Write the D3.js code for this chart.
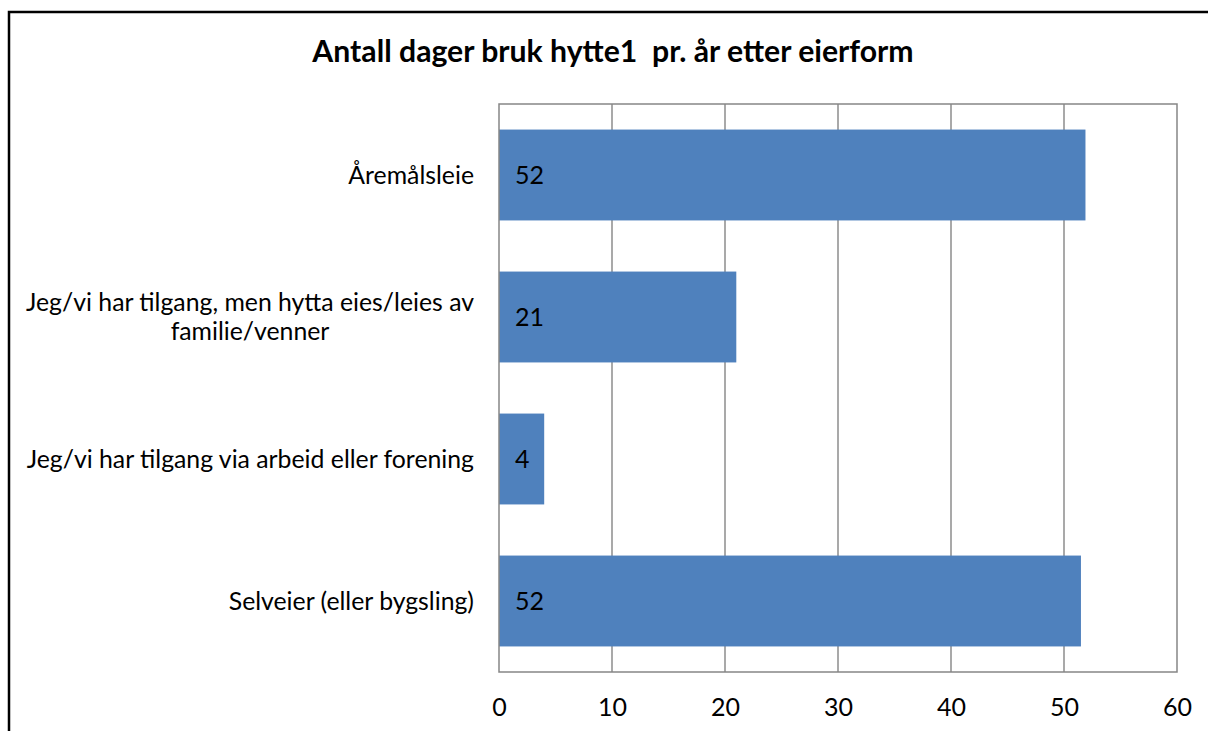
<!DOCTYPE html>
<html>
<head>
<meta charset="utf-8">
<script src="https://cdn.jsdelivr.net/npm/d3@7"></script>
<style>
  body { margin: 0; background: #fff; }
  text { font-family: Lato, "Open Sans", sans-serif; fill: #000; }
</style>
</head>
<body>
<svg id="chart" width="1208" height="731"></svg>
<script>
// Antall dager bruk hytte1 pr. år etter eierform
const categories = [
  'Åremålsleie',
  'Jeg/vi har tilgang, men hytta eies/leies av familie/venner',
  'Jeg/vi har tilgang via arbeid eller forening',
  'Selveier (eller bygsling)'
];
const values = [51.9, 21.0, 4.0, 51.5];
const valueLabels = ['52', '21', '4', '52'];
const xTicks = [0, 10, 20, 30, 40, 50, 60];
const titleText = 'Antall dager bruk hytte1  pr. år etter eierform';

const svg = d3.select('#chart'),
  margin = { top: 104, right: 31, bottom: 59, left: 499 },
  W = +svg.attr('width') - margin.left - margin.right,
  H = +svg.attr('height') - margin.top - margin.bottom;

// outer frame
svg.append('rect')
  .attr('x', 9).attr('y', 12)
  .attr('width', 1230).attr('height', 740)
  .attr('fill', 'none')
  .attr('stroke', '#000')
  .attr('stroke-width', 2.5);

svg.append('text')
  .attr('x', 613)
  .attr('y', 62)
  .attr('text-anchor', 'middle')
  .style('font-size', '30.2px')
  .style('font-weight', 'bold')
  .style('white-space', 'pre')
  .text(titleText);

const g = svg.append('g')
  .attr('transform', `translate(${margin.left},${margin.top})`);

const x = d3.scaleLinear().domain([0, 60]).range([0, W]);
const y = d3.scaleBand().domain(categories).range([0, H]).paddingInner(0.36).paddingOuter(0.18);

// gridlines
g.append('g')
  .selectAll('line')
  .data(xTicks.slice(1, -1))
  .join('line')
  .attr('x1', d => x(d)).attr('x2', d => x(d))
  .attr('y1', 0).attr('y2', H)
  .attr('stroke', '#8c8c8c')
  .attr('stroke-width', 1.5);

// bars
g.selectAll('rect.bar')
  .data(categories)
  .join('rect')
  .attr('class', 'bar')
  .attr('x', 0)
  .attr('y', d => y(d))
  .attr('width', (d, i) => x(values[i]))
  .attr('height', y.bandwidth())
  .attr('fill', '#4f81bd');

// plot frame
g.append('rect')
  .attr('x', 0).attr('y', 0)
  .attr('width', W).attr('height', H)
  .attr('fill', 'none')
  .attr('stroke', '#868686')
  .attr('stroke-width', 1.5);

// value labels (inside base)
g.selectAll('text.val')
  .data(categories)
  .join('text')
  .attr('class', 'val')
  .attr('x', 16)
  .attr('y', d => y(d) + y.bandwidth() / 2)
  .attr('dy', '0.36em')
  .style('font-size', '25px')
  .text((d, i) => valueLabels[i]);

// x axis labels
const xAxis = g.append('g')
  .attr('transform', `translate(0,${H})`)
  .call(d3.axisBottom(x).tickValues(xTicks).tickSize(0).tickPadding(26));
xAxis.select('.domain').remove();
xAxis.selectAll('text')
  .style('font-size', '25px')
  .style('font-family', 'Lato, "Open Sans", sans-serif')
  .attr('fill', '#000');

// category labels, wrapped lines centred in a right-aligned block
const labelRight = margin.left - 25;
const maxW = 470;
const yLabels = svg.append('g');
categories.forEach(cat => {
  const t = yLabels.append('text').style('font-size', '24.8px');
  const words = cat.split(' ');
  let lines = [], line = [];
  words.forEach(w => {
    line.push(w);
    t.text(line.join(' '));
    if (t.node().getComputedTextLength() > maxW && line.length > 1) {
      line.pop();
      lines.push(line.join(' '));
      line = [w];
    }
  });
  lines.push(line.join(' '));
  t.text(null);
  const widths = lines.map(l => { t.text(l); return t.node().getComputedTextLength(); });
  t.text(null);
  const blockW = d3.max(widths);
  const cx = labelRight - blockW / 2;
  const lh = 29;
  const cy = margin.top + y(cat) + y.bandwidth() / 2 - (lines.length - 1) * lh / 2;
  lines.forEach((l, i) => {
    t.append('tspan')
      .attr('x', cx)
      .attr('y', cy + i * lh)
      .attr('dy', '0.36em')
      .attr('text-anchor', 'middle')
      .text(l);
  });
});
</script>
</body>
</html>
